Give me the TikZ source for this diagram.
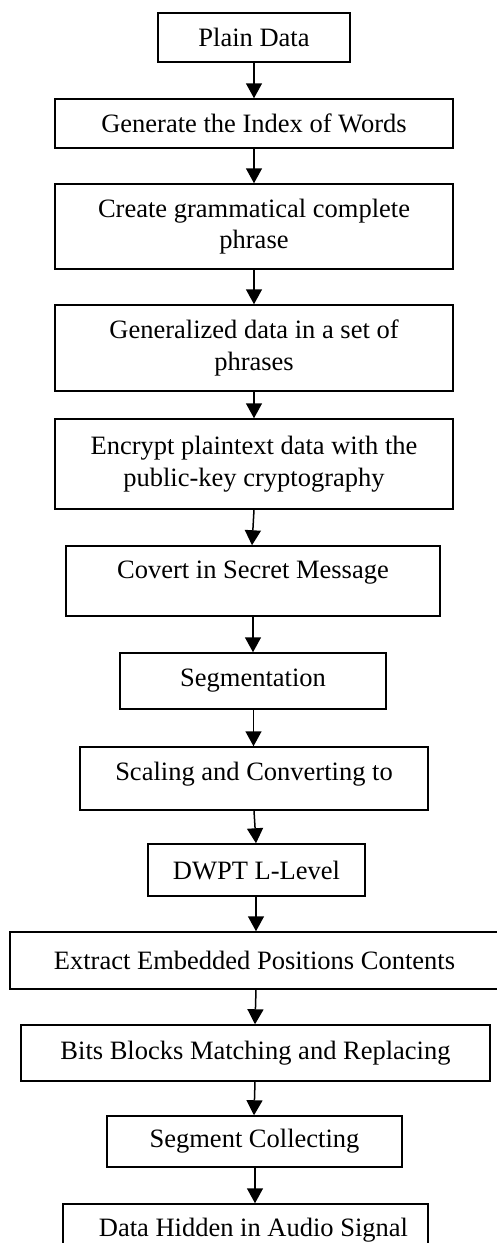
\documentclass[tikz,border=0pt]{standalone}
\usepackage{fontspec}
\setmainfont{Liberation Serif}
\usetikzlibrary{arrows.meta}
\begin{document}
\begin{tikzpicture}[x=1pt,y=-1pt,
  box/.style={draw=black, line width=1.5pt, rectangle, inner sep=0pt, align=center,
    font=\fontsize{26.5}{31.7}\selectfont},
  lbl/.style={font=\fontsize{26.5}{31.7}\selectfont},
  arr/.style={line width=1.5pt, -{Triangle[width=16pt,length=15pt]}}]
\useasboundingbox (0,0) rectangle (497,1243);
\clip (0,0) rectangle (497,1243);
\fill[white] (0,0) rectangle (497,1243);
\node[box, minimum width=192pt, minimum height=49pt] (b1) at (254,37.5) {Plain Data};
\node[box, minimum width=398pt, minimum height=49pt] (b2) at (254,123.5) {Generate the Index of Words};
\node[box, minimum width=398pt, minimum height=85pt] (b3) at (254,226.5) {Create grammatical complete\\phrase};
\node[box, minimum width=398pt, minimum height=86pt] (b4) at (254,348) {Generalized data in a set of\\phrases};
\node[box, minimum width=398pt, minimum height=90pt] (b5) at (254,464) {Encrypt plaintext data with the\\public-key cryptography};
\node[box, minimum width=374pt, minimum height=70pt,
  label={[lbl, yshift=8pt]center:Covert in Secret Message}] (b6) at (253,581) {};
\node[box, minimum width=266pt, minimum height=56pt] (b7) at (253,681) {Segmentation};
\node[box, minimum width=348pt, minimum height=63pt,
  label={[lbl, yshift=4.5pt]center:Scaling and Converting to}] (b8) at (254,778.5) {};
\node[box, minimum width=217pt, minimum height=52pt] (b9) at (256.5,870) {DWPT L-Level};
\node[box, minimum width=489pt, minimum height=57pt] (b10) at (254.5,960.5) {Extract Embedded Positions Contents};
\node[box, minimum width=469pt, minimum height=56pt] (b11) at (255.5,1053) {Bits Blocks Matching and Replacing};
\node[box, minimum width=295pt, minimum height=51pt] (b12) at (254.5,1141.5) {Segment Collecting};
\node[box, minimum width=365pt, minimum height=52pt,
  label={[lbl, xshift=8pt]center:Data Hidden in Audio Signal}] (b13) at (245.5,1230) {};
\draw[arr] (b1.south) -- (b2.north);
\draw[arr] (b2.south) -- (b3.north);
\draw[arr] (b3.south) -- (b4.north);
\draw[arr] (b4.south) -- (b5.north);
\draw[arr] (b5.south) -- ([xshift=-1pt]b6.north);
\draw[arr] (b6.south) -- (b7.north);
\draw[arr] ([xshift=0.5pt]b7.south) -- ([xshift=-0.5pt]b8.north);
\draw[arr] (b8.south) -- ([xshift=-0.5pt]b9.north);
\draw[arr] ([xshift=-0.5pt]b9.south) -- ([xshift=1.5pt]b10.north);
\draw[arr] ([xshift=1.5pt]b10.south) -- ([xshift=-0.5pt]b11.north);
\draw[arr] ([xshift=-0.5pt]b11.south) -- ([xshift=-0.5pt]b12.north);
\draw[arr] ([xshift=0.5pt]b12.south) -- ([xshift=9.5pt]b13.north);
\end{tikzpicture}
\end{document}
